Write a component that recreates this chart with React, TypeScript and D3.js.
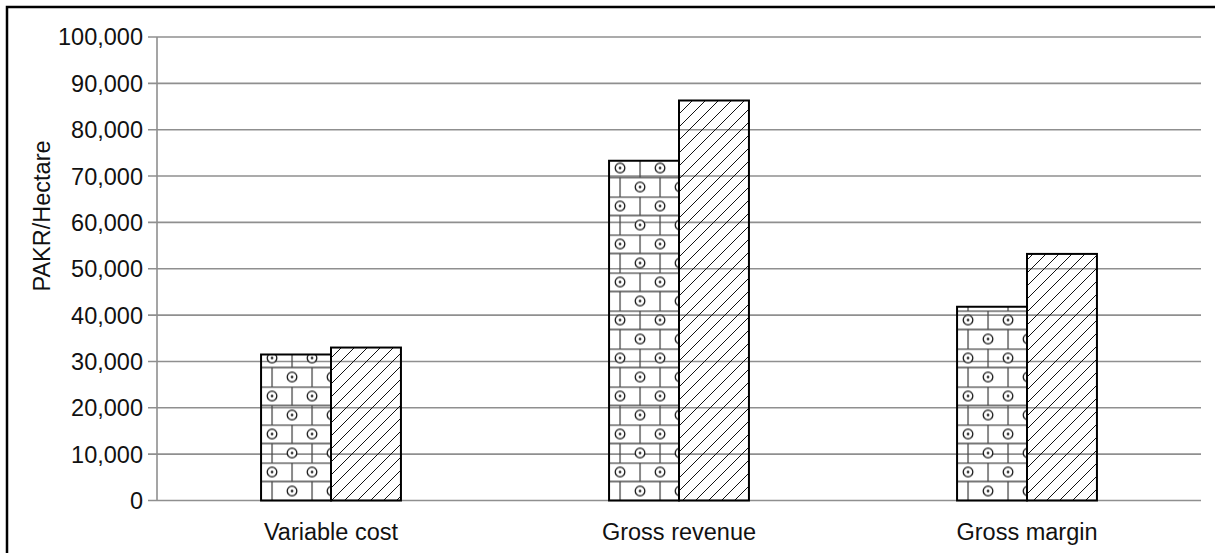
import React, { useEffect, useRef } from 'react';
import * as d3 from 'd3';

const categories = ['Variable cost', 'Gross revenue', 'Gross margin'];
const seriesNames = ['Series 1', 'Series 2'];
const series1Values = [31500, 73300, 41800];
const series2Values = [33000, 86300, 53200];
const yTicks = [0, 10000, 20000, 30000, 40000, 50000, 60000, 70000, 80000, 90000, 100000];
const yLabel = 'PAKR/Hectare';

const W = 1215;
const H = 553;
const FONT = '"Liberation Sans", Arial, sans-serif';
const FS = 23.5;

export default function App() {
  const svgRef = useRef<SVGSVGElement>(null);

  useEffect(() => {
    if (!svgRef.current) return;
    const svg = d3.select(svgRef.current);
    svg.selectAll('*').remove();

    const left = 157, right = 1201, top = 37, bottom = 500.5;

    const x = d3.scaleBand<string>()
      .domain(categories)
      .range([left, right])
      .paddingInner(0.598)
      .paddingOuter(0.299);

    const xs = d3.scaleBand<string>()
      .domain(seriesNames)
      .range([0, x.bandwidth()])
      .padding(0);

    const y = d3.scaleLinear().domain([0, 100000]).range([bottom, top]);

    const rows = categories.flatMap((c, i) => [
      { cat: c, s: seriesNames[0], v: series1Values[i], idx: i },
      { cat: c, s: seriesNames[1], v: series2Values[i], idx: i },
    ]);

    const defs = svg.append('defs');

    // brick pattern with circles, one per bar so it starts at the bar's left edge
    categories.forEach((c, i) => {
      const bx = (x(c) ?? 0) + (xs(seriesNames[0]) ?? 0);
      const p = defs.append('pattern')
        .attr('id', `brick${i}`)
        .attr('patternUnits', 'userSpaceOnUse')
        .attr('x', bx + 11)
        .attr('y', bottom)
        .attr('width', 40)
        .attr('height', 38);
      p.append('path')
        .attr('d', 'M0,0.5H40M0,19H40M20,0V19M0,19V38M40,19V38')
        .attr('stroke', '#4a4a4a')
        .attr('stroke-width', 1.3)
        .attr('fill', 'none');
      const circles = [[0, 9.5], [40, 9.5], [20, 28.5]];
      circles.forEach(([cx, cy]) => {
        p.append('circle').attr('cx', cx).attr('cy', cy).attr('r', 4.8)
          .attr('fill', 'white').attr('stroke', '#111').attr('stroke-width', 1.3);
        p.append('circle').attr('cx', cx).attr('cy', cy).attr('r', 1.3).attr('fill', '#111');
      });
    });

    const hatch = defs.append('pattern')
      .attr('id', 'hatch')
      .attr('patternUnits', 'userSpaceOnUse')
      .attr('width', 13)
      .attr('height', 13);
    hatch.append('path')
      .attr('d', 'M0,13L13,0M-3,3L3,-3M10,16L16,10')
      .attr('stroke', '#111')
      .attr('stroke-width', 1);

    // frame
    svg.append('rect')
      .attr('x', 7).attr('y', 7)
      .attr('width', W + 20).attr('height', H + 20)
      .attr('fill', 'white')
      .attr('stroke', 'black')
      .attr('stroke-width', 2.5);

    // grid lines + ticks
    const grid = svg.append('g');
    grid.selectAll('line.grid')
      .data(yTicks)
      .enter()
      .append('line')
      .attr('x1', left - 9)
      .attr('x2', right)
      .attr('y1', d => y(d))
      .attr('y2', d => y(d))
      .attr('stroke', '#8f8f8f')
      .attr('stroke-width', 1.6);

    grid.append('line')
      .attr('x1', left).attr('x2', left)
      .attr('y1', top).attr('y2', bottom)
      .attr('stroke', '#8f8f8f')
      .attr('stroke-width', 1.6);

    const fmt = d3.format(',');
    svg.append('g')
      .selectAll('text')
      .data(yTicks)
      .enter()
      .append('text')
      .attr('x', left - 14)
      .attr('y', d => y(d))
      .attr('dy', '0.36em')
      .attr('text-anchor', 'end')
      .attr('font-family', FONT)
      .attr('font-size', FS)
      .attr('fill', '#111')
      .text(d => fmt(d));

    // bars
    svg.append('g')
      .selectAll('rect')
      .data(rows)
      .enter()
      .append('rect')
      .attr('x', d => (x(d.cat) ?? 0) + (xs(d.s) ?? 0))
      .attr('y', d => y(d.v))
      .attr('width', xs.bandwidth())
      .attr('height', d => bottom - y(d.v))
      .attr('fill', d => d.s === seriesNames[0] ? `url(#brick${d.idx})` : 'url(#hatch)')
      .attr('stroke', 'black')
      .attr('stroke-width', 2);

    // category labels
    svg.append('g')
      .selectAll('text')
      .data(categories)
      .enter()
      .append('text')
      .attr('x', d => (x(d) ?? 0) + x.bandwidth() / 2)
      .attr('y', 540)
      .attr('text-anchor', 'middle')
      .attr('font-family', FONT)
      .attr('font-size', FS)
      .attr('fill', '#111')
      .text(d => d);

    svg.append('text')
      .attr('transform', 'translate(50,216) rotate(-90)')
      .attr('text-anchor', 'middle')
      .attr('font-family', FONT)
      .attr('font-size', FS)
      .attr('fill', '#111')
      .text(yLabel);
  }, []);

  return (
    <svg
      ref={svgRef}
      width={W}
      height={H}
      style={{ position: 'absolute', left: 0, top: 0, background: 'white' }}
    />
  );
}
